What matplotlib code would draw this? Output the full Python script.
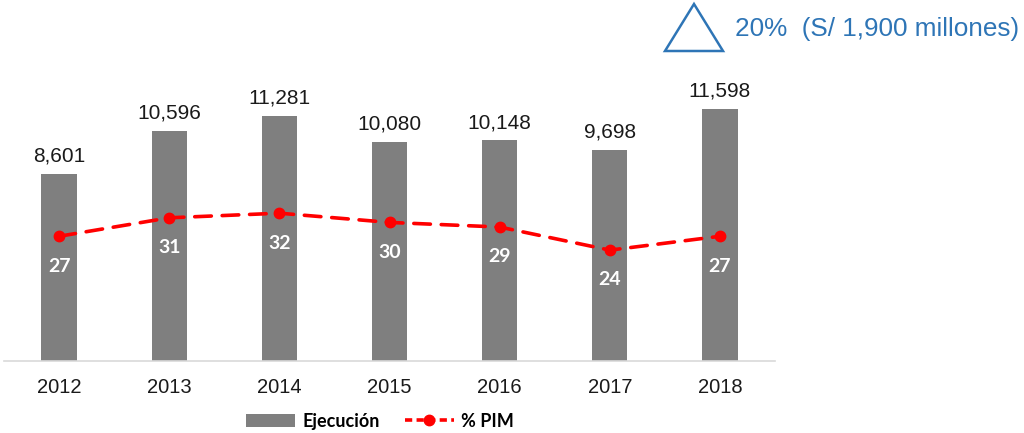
import matplotlib
matplotlib.use("Agg")
import matplotlib.pyplot as plt
import numpy as np
from matplotlib.patches import Polygon, Patch
from matplotlib.lines import Line2D
from matplotlib import rcParams

rcParams['font.family'] = ['Liberation Sans', 'DejaVu Sans']

# datos
anios = ['2012', '2013', '2014', '2015', '2016', '2017', '2018']
ejecucion = [8601, 10596, 11281, 10080, 10148, 9698, 11598]
pct_pim = [27, 31, 32, 30, 29, 24, 27]

gris = '#7F7F7F'
rojo = '#FF0000'
azul = '#2E75B6'

fig = plt.figure(figsize=(10.24, 4.33), dpi=100)
ax = fig.add_axes([0.0039, 0.1663, 0.753, 0.703])
x = np.arange(len(anios))

ax.bar(x, ejecucion, width=0.32, color=gris, zorder=2)
ax.set_xlim(-0.5, len(anios) - 0.5)
ax.set_ylim(0, 14000)
ax.set_yticks([])
ax.set_xticks(x)
ax.set_xticklabels(anios, fontsize=14.5, color='#1a1a1a')
ax.tick_params(axis='x', length=0, pad=12)
for s in ['top', 'right', 'left']:
    ax.spines[s].set_visible(False)
ax.spines['bottom'].set_color('#D9D9D9')
ax.spines['bottom'].set_linewidth(1.2)

for xi, v in zip(x, ejecucion):
    ax.annotate('{:,}'.format(v), (xi, v), xytext=(0, 6), textcoords='offset points',
                ha='center', va='bottom', fontsize=15, color='#1a1a1a')

ax2 = ax.twinx()
ax2.set_ylim(0, 65.9)
ax2.set_yticks([])
for s in ['top', 'right', 'left', 'bottom']:
    ax2.spines[s].set_visible(False)
ax2.plot(x, pct_pim, color=rojo, lw=2.6, ls=(0, (4.6, 3.0)), dash_capstyle='round',
         marker='o', markersize=7.5, zorder=3)
for xi, v in zip(x, pct_pim):
    ax2.annotate(str(v), (xi, v), xytext=(0, -21.5), textcoords='offset points',
                 ha='center', va='center', fontsize=14, fontweight='bold',
                 color='white', family='Lato')

# leyenda
h1 = Patch(facecolor=gris, edgecolor='none')
h2 = Line2D([], [], color=rojo, lw=2.6, ls=(0, (2.0, 1.2)), marker='o', markersize=7.5)
fig.legend([h1, h2], ['Ejecución', '% PIM'], loc='center', bbox_to_anchor=(0.371, 0.027),
           ncol=2, frameon=False, prop={'family': 'Lato', 'weight': 'bold', 'size': 13},
           handlelength=2.7, handleheight=0.7, handletextpad=0.4, columnspacing=1.4)

# triangulo y texto
tri = Polygon([(665 / 1024, 1 - 51 / 433), (723 / 1024, 1 - 51 / 433), (694 / 1024, 1 - 4 / 433)],
              closed=True, fill=False, edgecolor=azul, lw=1.8, transform=fig.transFigure)
fig.patches.append(tri)
fig.text(735 / 1024, 1 - 29 / 433, '20%  (S/ 1,900 millones)', ha='left', va='center',
         fontsize=18.8, color=azul)

plt.savefig('out.png', dpi=100)
